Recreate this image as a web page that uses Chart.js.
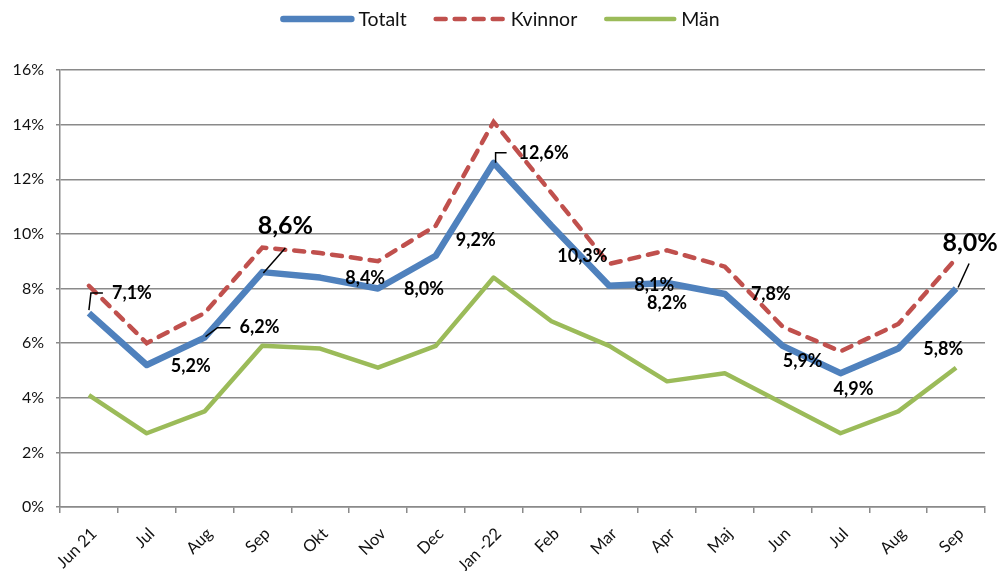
<!DOCTYPE html>
<html>
<head>
<meta charset="utf-8">
<script src="https://cdn.jsdelivr.net/npm/chart.js@4/dist/chart.umd.min.js"></script>
<style>
  html, body { margin: 0; padding: 0; background: #fff; }
  #wrap { width: 1001px; height: 571px; position: relative; }
</style>
</head>
<body>
<div id="wrap"><canvas id="c"></canvas></div>
<script>
const categories = ['Jun 21','Jul','Aug','Sep','Okt','Nov','Dec','Jan -22','Feb','Mar','Apr','Maj','Jun','Jul','Aug','Sep'];
const totalt  = [7.1, 5.2, 6.2, 8.6, 8.4, 8.0, 9.2, 12.6, 10.3, 8.1, 8.2, 7.8, 5.9, 4.9, 5.8, 8.0];
const kvinnor = [8.1, 6.0, 7.1, 9.5, 9.3, 9.0, 10.3, 14.1, 11.5, 8.9, 9.4, 8.8, 6.6, 5.7, 6.7, 9.1];
const man     = [4.1, 2.7, 3.5, 5.9, 5.8, 5.1, 5.9, 8.4, 6.8, 5.9, 4.6, 4.9, 3.8, 2.7, 3.5, 5.1];
const seriesNames = ['Totalt', 'Kvinnor', 'Män'];
const yTicks = [0, 2, 4, 6, 8, 10, 12, 14, 16];

const FONT = 'Lato, "Liberation Sans", sans-serif';

// label placement relative to each Totalt point (styling only)
const labelPlacement = [
  {dx:43, dy:-20, leader:[[0,-3],[2,-20],[14,-20]]},
  {dx:44, dy:1},
  {dx:55, dy:-10, leader:[[1,-1],[13,-10],[26,-10]]},
  {dx:23, dy:-46, big:true, leader:[[1,1],[23,-24]]},
  {dx:45, dy:1},
  {dx:46, dy:1},
  {dx:40, dy:-16},
  {dx:50, dy:-10, leader:[[2,0],[2,-10],[13,-10]]},
  {dx:31, dy:31},
  {dx:45, dy:-1},
  {dx:0, dy:20},
  {dx:46, dy:0},
  {dx:20, dy:15},
  {dx:13, dy:16},
  {dx:45, dy:1},
  {dx:14, dy:-46, big:true, leader:[[2,-1],[13,-25]]}
];

const labelPlugin = {
  id: 'totLabels',
  afterDatasetsDraw(chart) {
    const ctx = chart.ctx;
    const meta = chart.getDatasetMeta(0);
    const data = chart.data.datasets[0].data;
    ctx.save();
    meta.data.forEach((pt, i) => {
      const p = labelPlacement[i];
      if (p.leader) {
        ctx.beginPath();
        ctx.strokeStyle = '#000';
        ctx.lineWidth = 1.5;
        p.leader.forEach((q, k) => {
          if (k === 0) ctx.moveTo(pt.x + q[0], pt.y + q[1]);
          else ctx.lineTo(pt.x + q[0], pt.y + q[1]);
        });
        ctx.stroke();
      }
      ctx.fillStyle = '#000';
      ctx.font = 'bold ' + (p.big ? 25 : 18) + 'px ' + FONT;
      ctx.textAlign = 'center';
      ctx.textBaseline = 'middle';
      const txt = data[i].toFixed(1).replace('.', ',') + '%';
      ctx.fillText(txt, pt.x + p.dx, pt.y + p.dy);
    });
    ctx.restore();
  }
};

const legendPlugin = {
  id: 'customLegend',
  afterDraw(chart) {
    const ctx = chart.ctx;
    ctx.save();
    ctx.font = '19.5px ' + FONT;
    const lineLen = 72, gapText = 5, gapItem = 27;
    const items = chart.data.datasets.map(ds => ({ds, w: ctx.measureText(ds.label).width}));
    let total = 0;
    items.forEach((it, i) => { total += lineLen + gapText + it.w + (i < items.length - 1 ? gapItem : 0); });
    let x = (chart.width - total) / 2;
    const y = 19;
    items.forEach(it => {
      const ds = it.ds;
      ctx.beginPath();
      ctx.strokeStyle = ds.borderColor;
      ctx.lineWidth = ds.borderWidth;
      ctx.lineCap = 'round';
      ctx.setLineDash(ds.borderDash || []);
      ctx.moveTo(x + 2, y);
      ctx.lineTo(x + lineLen - 2, y);
      ctx.stroke();
      ctx.setLineDash([]);
      ctx.fillStyle = '#111';
      ctx.textAlign = 'left';
      ctx.textBaseline = 'middle';
      ctx.fillText(ds.label, x + lineLen + gapText, y + 1);
      x += lineLen + gapText + it.w + gapItem;
    });
    ctx.restore();
  }
};

new Chart(document.getElementById('c'), {
  type: 'line',
  data: {
    labels: categories,
    datasets: [
      { label: seriesNames[0], data: totalt, borderColor: '#4F81BD', borderWidth: 6.5, pointRadius: 0, tension: 0, borderJoinStyle: 'round', order: 0 },
      { label: seriesNames[1], data: kvinnor, borderColor: '#C0504D', borderWidth: 4.5, borderDash: [10, 9], borderCapStyle: 'round', pointRadius: 0, tension: 0, order: 1 },
      { label: seriesNames[2], data: man, borderColor: '#9BBB59', borderWidth: 4.5, pointRadius: 0, tension: 0, borderJoinStyle: 'round', order: 2 }
    ]
  },
  options: {
    responsive: true,
    maintainAspectRatio: false,
    animation: false,
    devicePixelRatio: 1,
    layout: { padding: { top: 70, right: 16, left: 0, bottom: 0 } },
    plugins: { legend: { display: false }, tooltip: { enabled: false } },
    scales: {
      x: {
        offset: true,
        grid: { display: true, offset: true, drawOnChartArea: false, drawTicks: true, tickLength: 6, color: '#8a8a8a', lineWidth: 1.5 },
        border: { display: true, color: '#8a8a8a', width: 1.5 },
        ticks: { maxRotation: 45, minRotation: 45, autoSkip: false, color: '#111', font: { family: FONT, size: 16.5 }, padding: 11, labelOffset: 5 },
        afterFit(scale) { scale.height = 64; }
      },
      y: {
        min: 0, max: 16,
        afterBuildTicks(scale) { scale.ticks = yTicks.map(v => ({ value: v })); },
        grid: { color: '#8a8a8a', lineWidth: 1.5, tickLength: 4 },
        border: { display: true, color: '#8a8a8a', width: 1.5 },
        ticks: { color: '#111', font: { family: FONT, size: 16 }, padding: 12, callback: v => v + '%' },
        afterFit(scale) { scale.width = 60; }
      }
    }
  },
  plugins: [labelPlugin, legendPlugin]
});
</script>
</body>
</html>
